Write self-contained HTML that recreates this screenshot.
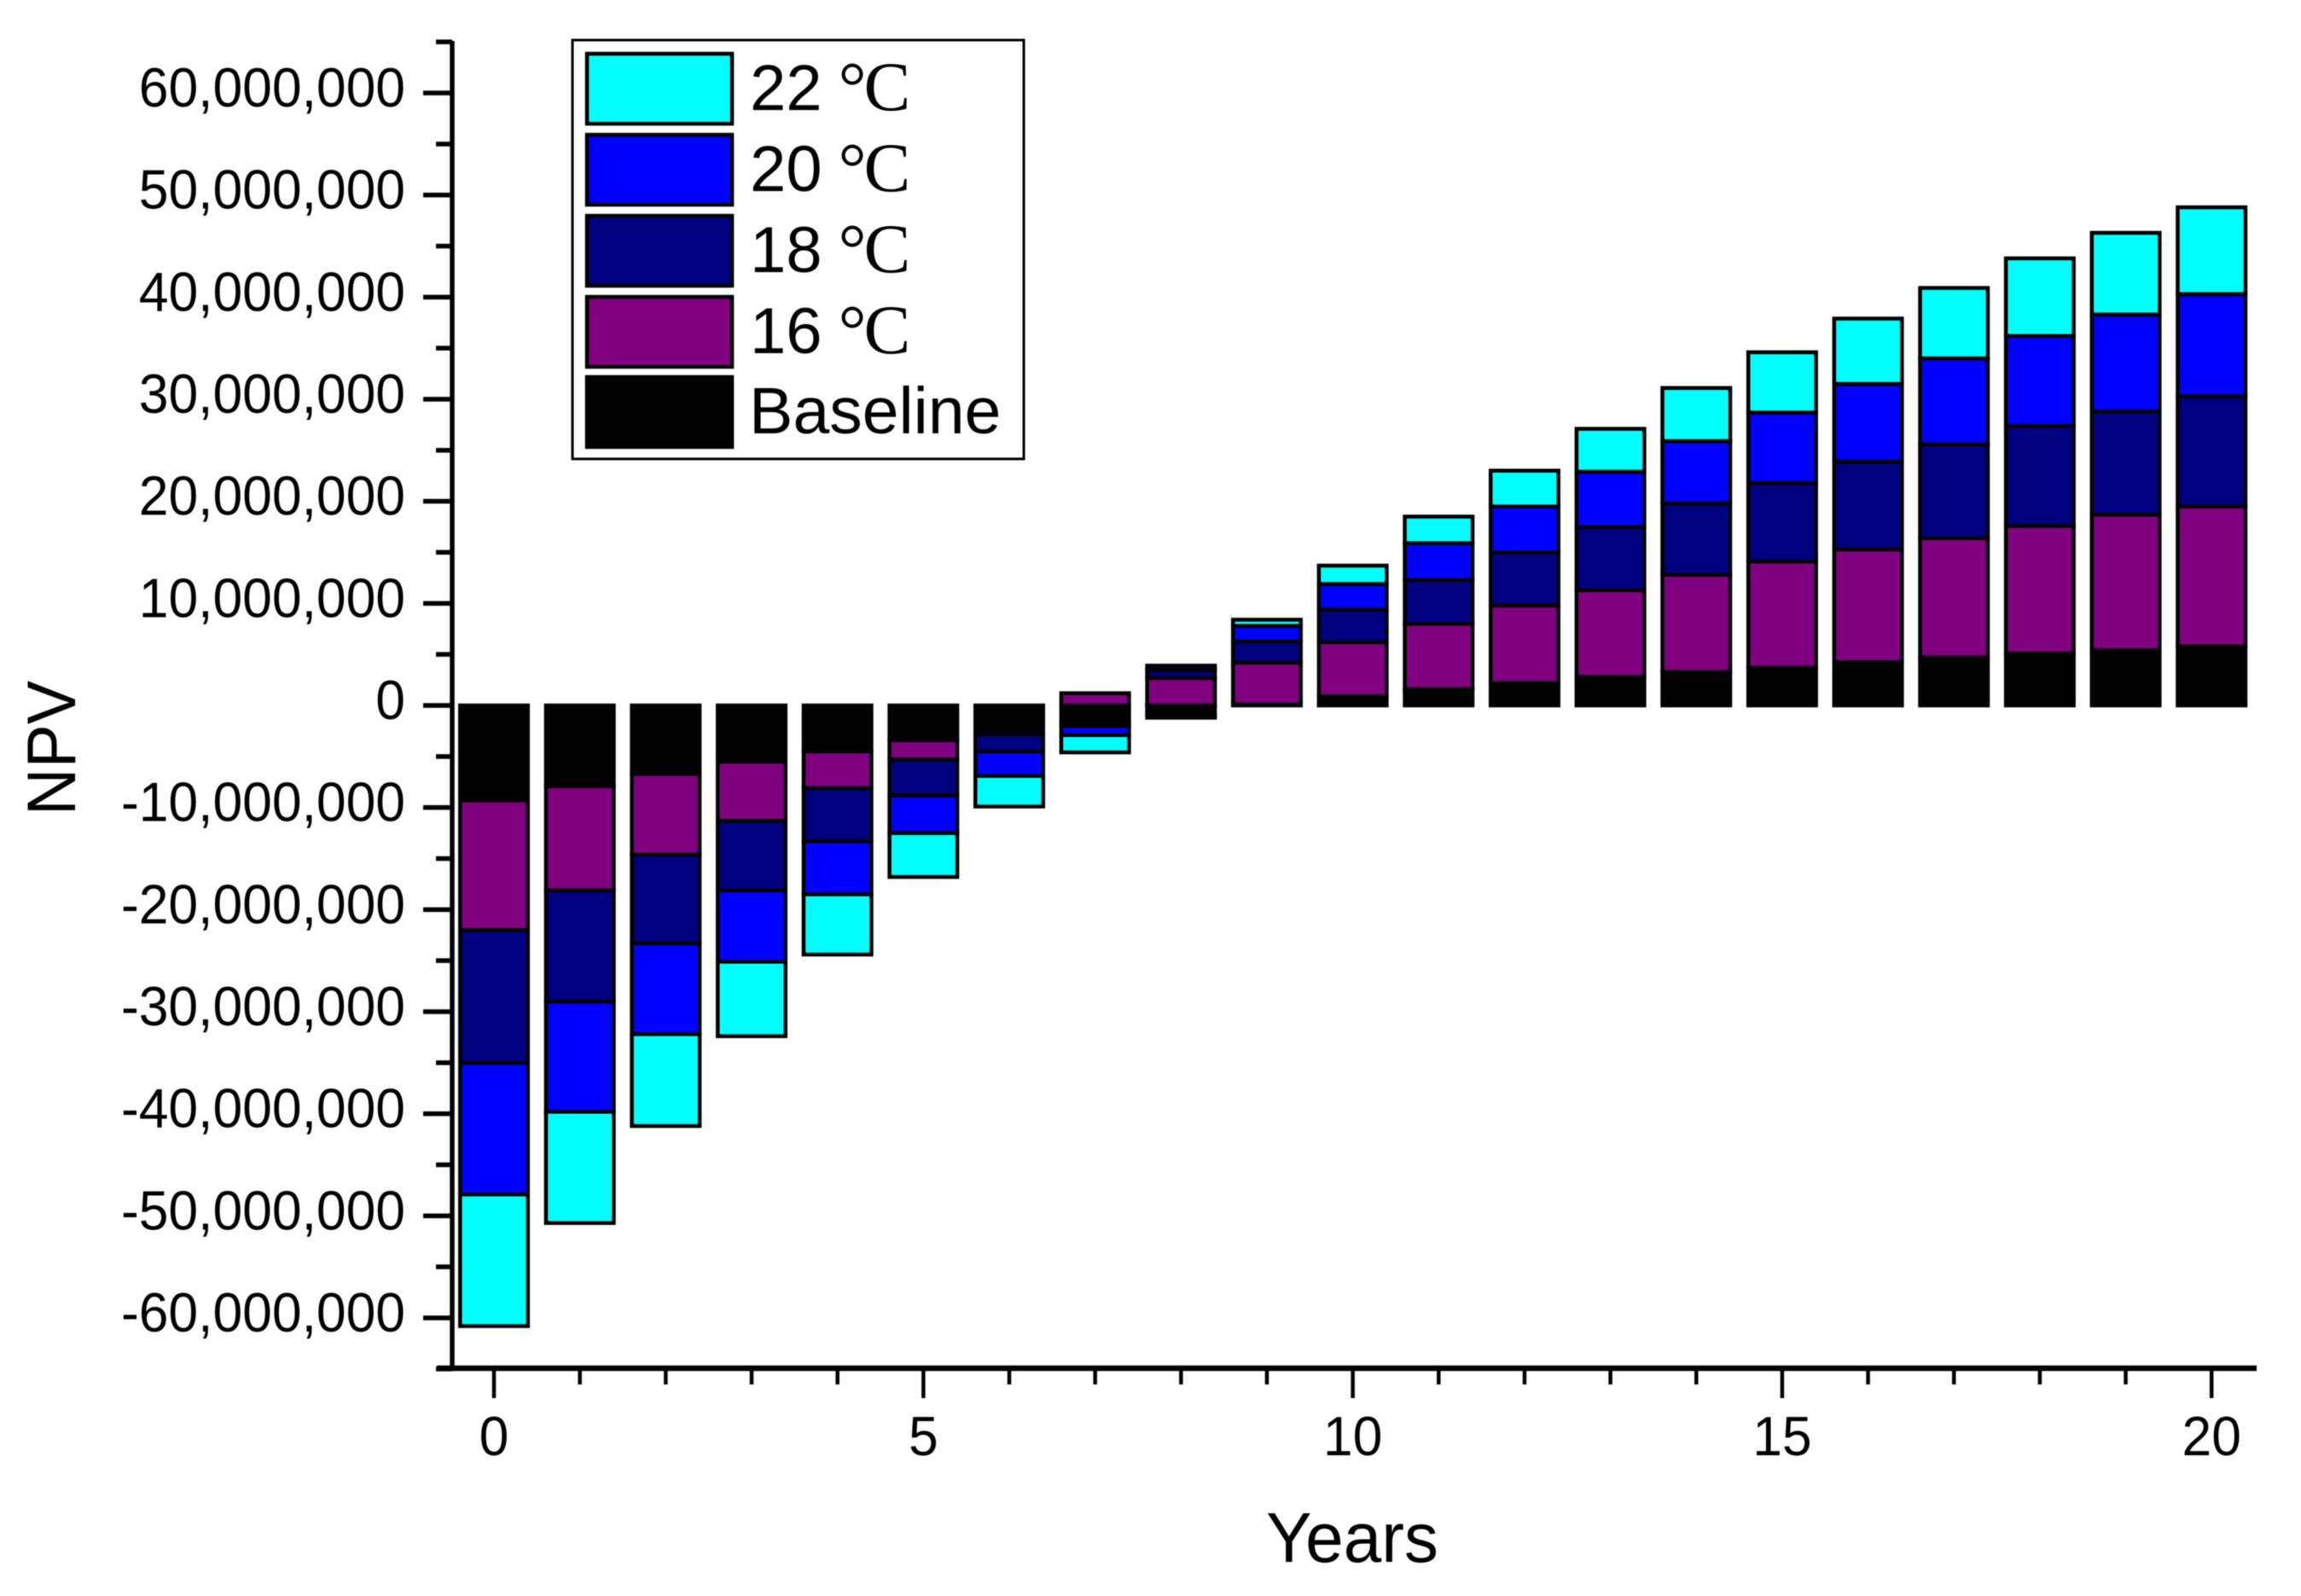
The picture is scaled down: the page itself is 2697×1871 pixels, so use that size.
<!DOCTYPE html>
<html lang="en">
<head>
<meta charset="utf-8">
<title>NPV by year</title>
<style>
html,body{margin:0;padding:0;background:#fff;}
body{width:2697px;height:1871px;overflow:hidden;}
svg{display:block;}
text{font-family:"Liberation Sans",sans-serif;fill:#000;}
.serif{font-family:"Liberation Serif",serif;}
</style>
</head>
<body>
<svg id="chart" xmlns="http://www.w3.org/2000/svg" width="2697" height="1871" viewBox="0 0 2697 1871" style="filter:blur(0.5px)">
  <rect x="0" y="0" width="2697" height="1871" fill="#fff"/>
  <g id="bars"></g>
  <g id="axes"></g>
  <text transform="translate(88,877) rotate(-90) scale(0.95,1)" font-size="81" text-anchor="middle">NPV</text>
  <text transform="translate(1585,1831) scale(0.965,1)" font-size="83" text-anchor="middle">Years</text>
  <g>
    <rect x="671" y="47" width="529" height="491" fill="#fff" stroke="#000" stroke-width="3"/>
    <g>
      <rect x="688" y="63" width="170" height="82" fill="#00ffff" stroke="#000" stroke-width="4.5"/>
      <text x="879" y="129" font-size="76">22 <tspan class="serif" font-size="82" dx="-2" letter-spacing="-3">°C</tspan></text>
    </g>
    <g>
      <rect x="688" y="158" width="170" height="82" fill="#0000ff" stroke="#000" stroke-width="4.5"/>
      <text x="879" y="224" font-size="76">20 <tspan class="serif" font-size="82" dx="-2" letter-spacing="-3">°C</tspan></text>
    </g>
    <g>
      <rect x="688" y="253" width="170" height="82" fill="#000080" stroke="#000" stroke-width="4.5"/>
      <text x="879" y="319" font-size="76">18 <tspan class="serif" font-size="82" dx="-2" letter-spacing="-3">°C</tspan></text>
    </g>
    <g>
      <rect x="688" y="348" width="170" height="82" fill="#800080" stroke="#000" stroke-width="4.5"/>
      <text x="879" y="414" font-size="76">16 <tspan class="serif" font-size="82" dx="-2" letter-spacing="-3">°C</tspan></text>
    </g>
    <g>
      <rect x="688" y="442" width="170" height="82" fill="#000" stroke="#000" stroke-width="4.5"/>
      <text x="878" y="508" font-size="77">Baseline</text>
    </g>
  </g>
</svg>
<script>
const years = [0,1,2,3,4,5,6,7,8,9,10,11,12,13,14,15,16,17,18,19,20];
const seriesKeys = ['baseline','16c','18c','20c','22c'];
const seriesColors = ['#000000','#800080','#000080','#0000ff','#00ffff'];
// Values in millions; positive values stack upward, negative values stack downward.
const baselineValues = [-9.3,-7.9,-6.7,-5.5,-4.5,-3.4,-2.7,-1.7,-0.9,0.1,0.9,1.6,2.2,2.8,3.3,3.7,4.25,4.7,5.1,5.4,5.8];
const c16Values = [-12.7,-10.2,-7.9,-5.8,-3.6,-1.9,-0.1,1.2,2.7,4.1,5.3,6.4,7.6,8.5,9.5,10.4,11.05,11.7,12.5,13.3,13.7];
const c18Values = [-13.0,-10.9,-8.7,-6.8,-5.2,-3.5,-1.7,-0.3,0.8,2.1,3.2,4.3,5.2,6.2,7.0,7.7,8.6,9.2,9.8,10.1,10.8];
const c20Values = [-12.9,-10.8,-8.9,-7.0,-5.2,-3.7,-2.4,-0.9,0.4,1.5,2.5,3.6,4.5,5.4,6.1,6.9,7.6,8.4,8.8,9.5,10.0];
const c22Values = [-12.9,-10.9,-9.0,-7.3,-5.9,-4.3,-3.0,-1.7,-0.3,0.6,1.8,2.6,3.5,4.2,5.2,5.9,6.4,6.9,7.6,8.0,8.5];
const seriesValues = [baselineValues,c16Values,c18Values,c20Values,c22Values];
const yTickValues = [60,50,40,30,20,10,0,-10,-20,-30,-40,-50,-60];
const yTickLabels = ['60,000,000','50,000,000','40,000,000','30,000,000','20,000,000','10,000,000','0','-10,000,000','-20,000,000','-30,000,000','-40,000,000','-50,000,000','-60,000,000'];
const yMinorValues = [65,55,45,35,25,15,5,-5,-15,-25,-35,-45,-55,-65];
const xTickValues = [0,5,10,15,20];
const xTickLabels = ['0','5','10','15','20'];

const NS = 'http://www.w3.org/2000/svg';
const xScale = v => 579 + v * 100.66;
const yScale = v => 827 - v * 11.967;
const BAR_W = 79.5;

const barsG = document.getElementById('bars');
const axesG = document.getElementById('axes');

years.forEach((yr, i) => {
  let pos = 0, neg = 0;
  const col = document.createElementNS(NS, 'g');
  
  
  seriesValues.forEach((vals, s) => {
    const v = vals[i];
    let a, b;
    if (v >= 0) { a = pos; b = pos + v; pos = b; }
    else { a = neg; b = neg + v; neg = b; }
    const y1 = yScale(Math.max(a, b));
    const y2 = yScale(Math.min(a, b));
    const rect = document.createElementNS(NS, 'rect');
    
    
    rect.setAttribute('x', xScale(yr) - BAR_W / 2);
    rect.setAttribute('y', y1);
    rect.setAttribute('width', BAR_W);
    rect.setAttribute('height', Math.max(0, y2 - y1));
    rect.setAttribute('fill', seriesColors[s]);
    rect.setAttribute('stroke', '#000');
    rect.setAttribute('stroke-width', '4.5');
    col.appendChild(rect);
  });
  barsG.appendChild(col);
});

function addLine(x1, y1, x2, y2, w) {
  const l = document.createElementNS(NS, 'line');
  l.setAttribute('x1', x1);
  l.setAttribute('y1', y1);
  l.setAttribute('x2', x2);
  l.setAttribute('y2', y2);
  l.setAttribute('stroke', '#000');
  l.setAttribute('stroke-width', w);
  axesG.appendChild(l);
  return l;
}

const yAxisLine = addLine(530, 48, 530, 1607, 5.5);


const xAxisLine = addLine(512, 1604, 2645, 1604, 6.5);



yTickValues.forEach((v, i) => {
  const t = addLine(496, yScale(v), 530, yScale(v), 5.5);
  
  
  const lab = document.createElementNS(NS, 'text');
  
  
  lab.setAttribute('transform', 'translate(475,' + (yScale(v) + 16) + ') scale(0.96,1)');
  lab.setAttribute('font-size', 65);
  lab.setAttribute('text-anchor', 'end');
  lab.textContent = yTickLabels[i];
  axesG.appendChild(lab);
});
yMinorValues.forEach(v => {
  const t = addLine(511, yScale(v), 530, yScale(v), 5.5);
  
  
});
years.forEach(yr => {
  const major = xTickValues.includes(yr);
  const t = addLine(xScale(yr), 1604, xScale(yr), major ? 1639 : 1623, 4.5);
  
  
});
xTickValues.forEach((v, i) => {
  const lab = document.createElementNS(NS, 'text');
  
  
  lab.setAttribute('transform', 'translate(' + xScale(v) + ',1706) scale(0.96,1)');
  lab.setAttribute('font-size', 65);
  lab.setAttribute('text-anchor', 'middle');
  lab.textContent = xTickLabels[i];
  axesG.appendChild(lab);
});
</script>
</body>
</html>
